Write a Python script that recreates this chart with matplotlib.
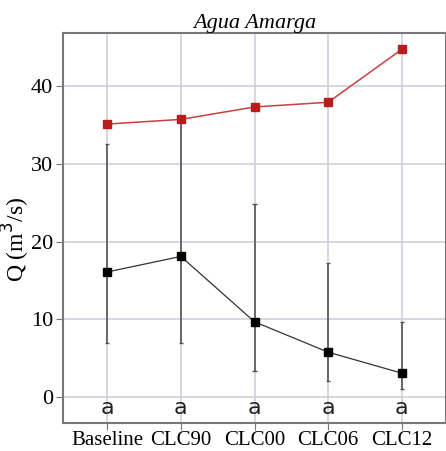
import numpy as np
import matplotlib.pyplot as plt

# scenario data
scenarios = ['Baseline', 'CLC90', 'CLC00', 'CLC06', 'CLC12']
q_red = [35.1, 35.7, 37.3, 37.9, 44.7]
q_black = [16.1, 18.1, 9.7, 5.8, 3.1]
err_low = [7.0, 7.0, 3.4, 2.1, 1.1]
err_high = [32.6, 35.6, 24.8, 17.3, 9.7]
groups = ['a', 'a', 'a', 'a', 'a']

plt.rcParams['font.family'] = ['Liberation Serif', 'DejaVu Serif']

fig = plt.figure(figsize=(4.46, 4.51), dpi=100)
ax = fig.add_axes([63 / 446, 28 / 451, (446 - 63) / 446, (423 - 33) / 451])

x = np.arange(len(scenarios))
ax.vlines(x, err_low, err_high, color='#555555', lw=1.2, zorder=2)
ax.hlines(err_low, x - 0.03, x + 0.03, color='#555555', lw=1, zorder=2)
ax.hlines(err_high, x - 0.03, x + 0.03, color='#555555', lw=1, zorder=2)
ax.plot(x, q_black, color='#333333', lw=0.9, marker='s', ms=6,
        mfc='black', mec='black', zorder=3)
ax.plot(x, q_red, color='#c84040', lw=1.1, marker='s', ms=6,
        mfc='#b81c1c', mec='#b81c1c', zorder=3)

for xi, g in zip(x, groups):
    ax.text(xi, -1.4, g, ha='center', va='center', fontsize=16,
            family='DejaVu Sans', color='#222222')

ax.set_xlim(-0.6, 4.6)
ax.set_ylim(-3.3, 46.8)
ax.set_xticks(x)
ax.set_xticklabels(scenarios, fontsize=15)
ax.set_yticks([0, 10, 20, 30, 40])
ax.tick_params(axis='y', labelsize=16, length=5, pad=2, color='#777777')
ax.tick_params(axis='x', length=5, pad=1, color='#777777')
ax.grid(True, color='#cfcfdb', lw=1.2)
ax.set_axisbelow(True)
for s in ax.spines.values():
    s.set_color('#777777')
    s.set_linewidth(1.5)

ax.set_ylabel('Q (m$^3$/s)', fontsize=17)
ax.yaxis.set_label_coords(-0.08, 0.472)
ax.set_title('Agua Amarga', fontsize=16, style='italic', pad=3)

fig.savefig('out.png', dpi=100)
